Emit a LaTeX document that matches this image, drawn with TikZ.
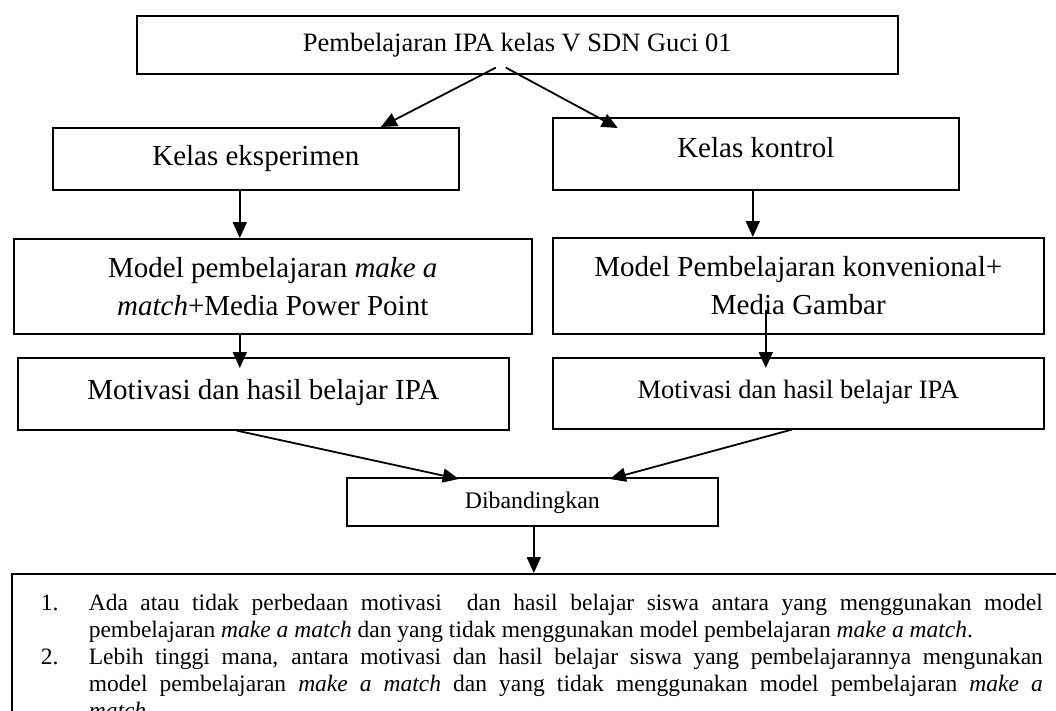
\documentclass[tikz,border=0pt]{standalone}
\usepackage{fontspec}
\setmainfont{Liberation Serif}
\usetikzlibrary{arrows.meta,calc}
\tikzset{
  box/.style={draw, line width=1.6pt, inner sep=0pt, anchor=north west, align=center},
  arr/.style={line width=1.8pt, -{Triangle[length=16pt,width=14pt]}},
}
\begin{document}
\begin{tikzpicture}[x=1pt,y=-1pt]
\useasboundingbox (0,0) rectangle (1056,710);
\clip (0,0) rectangle (1056,710);

\node[box, minimum width=761pt, minimum height=58pt,
  font=\fontsize{26.5pt}{32pt}\selectfont] (top) at (136,15)
  {Pembelajaran IPA kelas V SDN Guci 01};

\node[box, minimum width=406pt, minimum height=62pt,
  font=\fontsize{29pt}{36pt}\selectfont] (eks) at (52,127)
  {Kelas eksperimen};
\node[box, minimum width=406pt, minimum height=72pt, text depth=12pt,
  font=\fontsize{29pt}{36pt}\selectfont] (kon) at (552,117)
  {Kelas kontrol};

\node[box, minimum width=518pt, minimum height=95pt,
  font=\fontsize{29pt}{38pt}\selectfont] (modl) at (13,238)
  {Model pembelajaran \textit{make a}\\\textit{match}+Media Power Point};
\node[box, minimum width=491pt, minimum height=96pt,
  font=\fontsize{29pt}{38pt}\selectfont] (modr) at (552,237)
  {Model Pembelajaran konvenional+\\Media Gambar};

\node[box, minimum width=491pt, minimum height=72pt, text depth=9pt,
  font=\fontsize{29pt}{36pt}\selectfont] (motl) at (17,357)
  {Motivasi dan hasil belajar IPA};
\node[box, minimum width=491pt, minimum height=71pt, text depth=8pt,
  font=\fontsize{26.5pt}{32pt}\selectfont] (motr) at (552,357)
  {Motivasi dan hasil belajar IPA};

\node[box, minimum width=371pt, minimum height=48pt, text depth=4pt,
  font=\fontsize{23.8pt}{28pt}\selectfont] (dib) at (346,477)
  {Dibandingkan};

\node[draw, line width=1.6pt, anchor=north west, inner xsep=77pt, inner ysep=20pt,
  text width=954pt, align=justify,
  font=\fontsize{23.5pt}{27pt}\selectfont] (hasil) at (11,573)
  {\noindent\llap{\makebox[48pt][l]{1.}}Ada atau tidak perbedaan motivasi\ \ dan hasil belajar siswa antara yang menggunakan model\linebreak
   pembelajaran \textit{make a match} dan yang tidak menggunakan model pembelajaran \textit{make a match}.\par
   \noindent\llap{\makebox[48pt][l]{2.}}Lebih tinggi mana, antara motivasi dan hasil belajar siswa yang pembelajarannya mengunakan\linebreak
   model pembelajaran \textit{make a match} dan yang tidak menggunakan model pembelajaran \textit{make a}\linebreak
   \textit{match}.};

\draw[arr] ([xshift=-21.5pt,yshift=7pt]top.south) -- ([xshift=125pt]eks.north);
\draw[arr] ([xshift=-11.5pt,yshift=7pt]top.south) -- ([xshift=-138pt,yshift=-11pt]kon.north);
\draw[arr] ([xshift=-16pt]eks.south) -- ([xshift=-16pt]eks.south |- modl.north);
\draw[arr] ([xshift=-3pt]kon.south) -- ([xshift=-3pt]kon.south |- modr.north);
\draw[arr] ([xshift=-33pt]modl.south) -- ([xshift=-33pt,yshift=-11pt]modl.south |- motl.north);
\draw[arr] ([xshift=-32.5pt,yshift=25pt]modr.south) -- ([xshift=-32.5pt,yshift=-11pt]modr.south |- motr.north);
\draw[arr] ([xshift=-26.5pt]motl.south) -- ([xshift=-73.5pt,yshift=-2pt]dib.north);
\draw[arr] ([xshift=-6.5pt]motr.south) -- ([xshift=77.5pt,yshift=-2pt]dib.north);
\draw[arr] ([xshift=1.5pt]dib.south) -- ([xshift=1.5pt]dib.south |- hasil.north);
\end{tikzpicture}
\end{document}
